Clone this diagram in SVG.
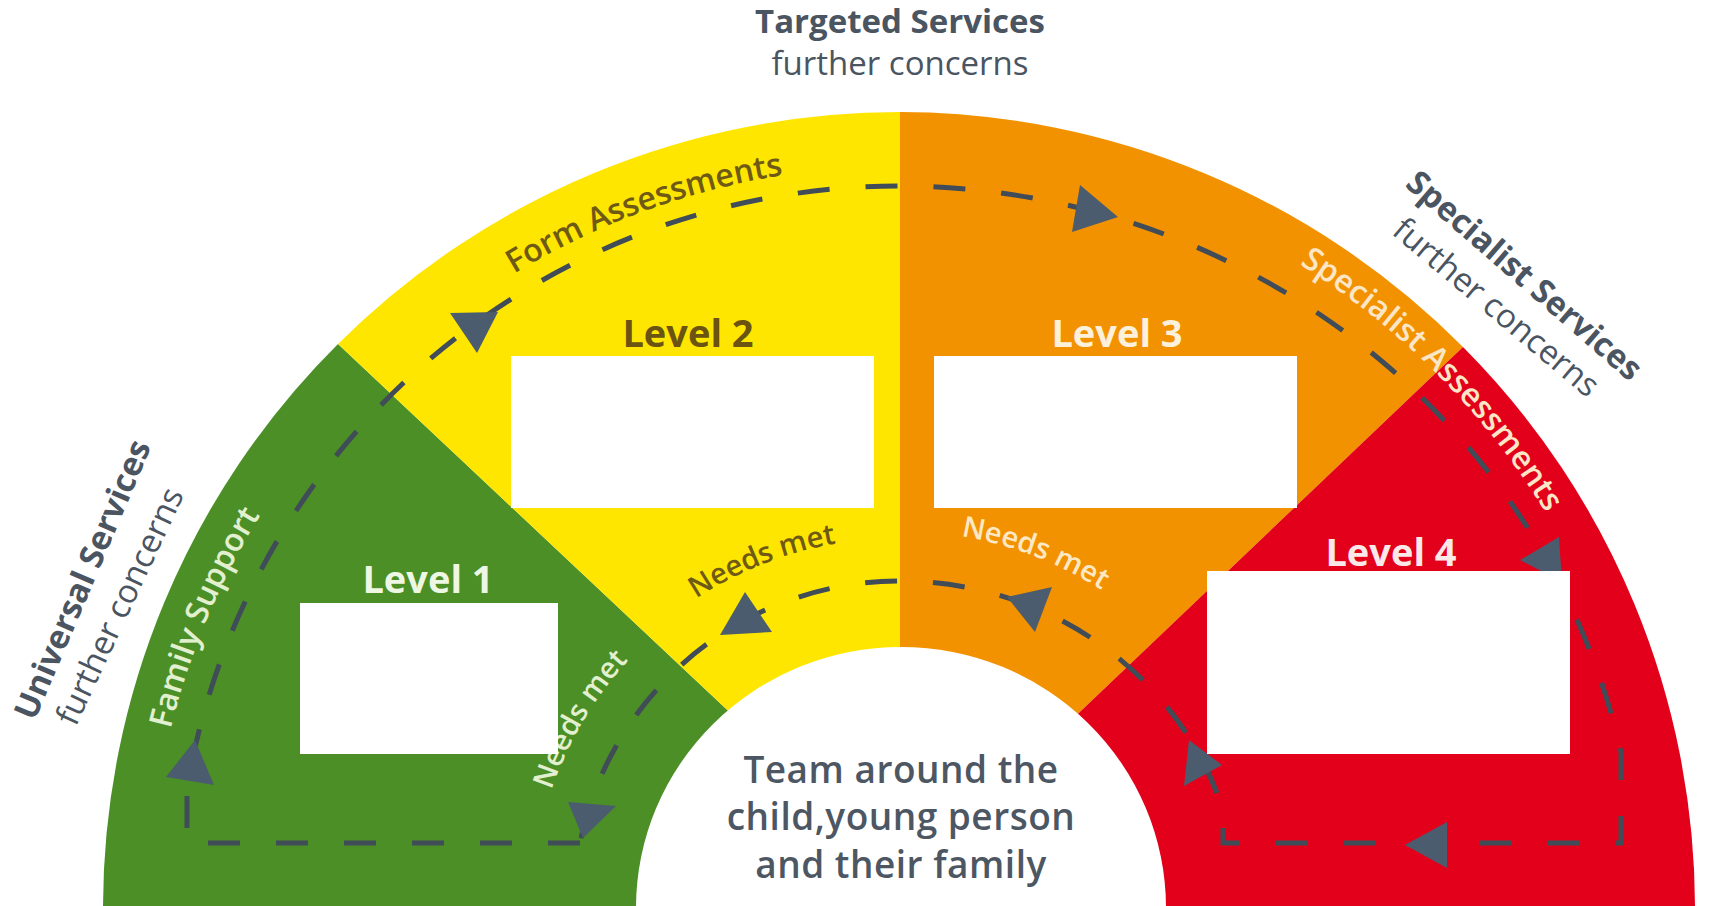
<svg xmlns="http://www.w3.org/2000/svg" width="1709" height="906" viewBox="0 0 1709 906">
  <style>
    .sans { font-family: "Open Sans", "Noto Sans", "Liberation Sans", sans-serif; }
    .head { font-size: 33px; fill: #4a5561; }
    .b { font-weight: 700; }
    .lvl { font-size: 38px; font-weight: 700; text-anchor: middle; }
    .band { font-size: 32px; font-weight: 600; }
    .needs { font-size: 29px; font-weight: 600; }
    .box { fill: #ffffff; }
    .flow { fill: none; stroke: #404c57; stroke-width: 5; stroke-dasharray: 32 36; }
    .tip { fill: #4b5c6e; }
  </style>
  <defs>
    <!-- baseline circles centred on the hub at (899,908) -->
    <path id="ring742" d="M 157 908 A 742 742 0 0 1 1641 908"/>
    <path id="ring750" d="M 149 908 A 750 750 0 0 1 1649 908"/>
    <path id="ring758" d="M 141 908 A 758 758 0 0 1 1657 908"/>
    <path id="ring367" d="M 532 908 A 367 367 0 0 1 1266 908"/>
    <path id="ring370" d="M 529 908 A 370 370 0 0 1 1269 908"/>
    <path id="ring377" d="M 522 908 A 377 377 0 0 1 1276 908"/>
  </defs>

  <rect x="0" y="0" width="1709" height="906" fill="#ffffff"/>

  <!-- outside service headings -->
  <g id="targeted-services" class="sans head" text-anchor="middle">
    <text x="900" y="33" class="b">Targeted Services</text>
    <text x="900" y="75">further concerns</text>
  </g>
  <g id="universal-services" class="sans head" text-anchor="middle">
    <text transform="translate(93,584) rotate(-67)" class="b">Universal Services</text>
    <text transform="translate(130,611) rotate(-65)">further concerns</text>
  </g>
  <g id="specialist-services" class="sans head" text-anchor="middle">
    <text transform="translate(1517,284) rotate(41)" class="b">Specialist Services</text>
    <text transform="translate(1489,316) rotate(40)">further concerns</text>
  </g>

  <!-- sectors -->
  <g id="level-1">
    <path d="M 103 908 A 796 796 0 0 1 338 344 L 938 908 Z" fill="#4b8f26"/>
  </g>
  <g id="level-2">
    <path d="M 338 344 A 796 796 0 0 1 900 112 L 900 908 L 938 908 Z" fill="#ffe600"/>
  </g>
  <g id="level-3">
    <path d="M 900 112 A 796 796 0 0 1 1463 347 L 874 908 L 900 908 Z" fill="#f39200"/>
  </g>
  <g id="level-4">
    <path d="M 1463 347 A 796 796 0 0 1 1695 908 L 874 908 Z" fill="#e3001b"/>
  </g>

  <!-- central hub -->
  <g id="hub">
    <ellipse cx="901" cy="908" rx="265" ry="261" fill="#ffffff"/>
    <g class="sans" font-size="37" font-weight="600" letter-spacing="0.5" fill="#4d5763" text-anchor="middle">
      <text x="901" y="783">Team around the</text>
      <text x="901" y="830">child,young person</text>
      <text x="901" y="878">and their family</text>
    </g>
  </g>

  <!-- band labels -->
  <g id="band-labels" class="sans" text-anchor="middle">
    <text class="band" fill="#6e5a14"><textPath href="#ring742" startOffset="905">Form Assessments</textPath></text>
    <text class="band" fill="#e2f0cf"><textPath href="#ring750" startOffset="297">Family Support</textPath></text>
    <text class="band" fill="#fbe7c8"><textPath href="#ring758" startOffset="1789">Specialist Assessments</textPath></text>
    <text class="needs" fill="#e2f0cf"><textPath href="#ring367" startOffset="196">Needs met</textPath></text>
    <text class="needs" fill="#6e5a14"><textPath href="#ring370" startOffset="442">Needs met</textPath></text>
    <text class="needs" fill="#fde8c4"><textPath href="#ring377" startOffset="730">Needs met</textPath></text>
  </g>

  <!-- flow loop and arrowheads -->
  <g id="connectors">
    <path class="flow" d="M 580 843 H 187 V 788 A 722 722 0 0 1 899 186 A 740 722 0 0 1 1621 752 V 843 H 1223 V 810 A 338 327 0 0 0 899 581 A 326 326 0 0 0 580 843"/>
    <polygon class="tip" points="195,740 166,777 214,785"/>
    <polygon class="tip" points="450,313 498,312 477,353"/>
    <polygon class="tip" points="1080,185 1118,217 1072,232"/>
    <polygon class="tip" points="1559,537 1520,560 1562,582"/>
    <polygon class="tip" points="1405,845 1447,822 1447,868"/>
    <polygon class="tip" points="1189,740 1184,786 1222,765"/>
    <polygon class="tip" points="1052,587 1007,597 1035,632"/>
    <polygon class="tip" points="745,592 720,635 772,632"/>
    <polygon class="tip" points="568,802 616,806 583,838"/>
  </g>

  <!-- level titles and their panels -->
  <g id="level-1-label">
    <text x="428" y="593" class="sans lvl" fill="#eef6e4">Level 1</text>
    <rect class="box" x="300" y="603" width="258" height="151"/>
  </g>
  <g id="level-2-label">
    <text x="688" y="347" class="sans lvl" fill="#6b5312">Level 2</text>
    <rect class="box" x="511" y="356" width="363" height="152"/>
  </g>
  <g id="level-3-label">
    <text x="1117" y="347" class="sans lvl" fill="#fdf1dc">Level 3</text>
    <rect class="box" x="934" y="356" width="363" height="152"/>
  </g>
  <g id="level-4-label">
    <text x="1391" y="566" class="sans lvl" fill="#fbe9ea">Level 4</text>
    <rect class="box" x="1207" y="571" width="363" height="183"/>
  </g>
</svg>
